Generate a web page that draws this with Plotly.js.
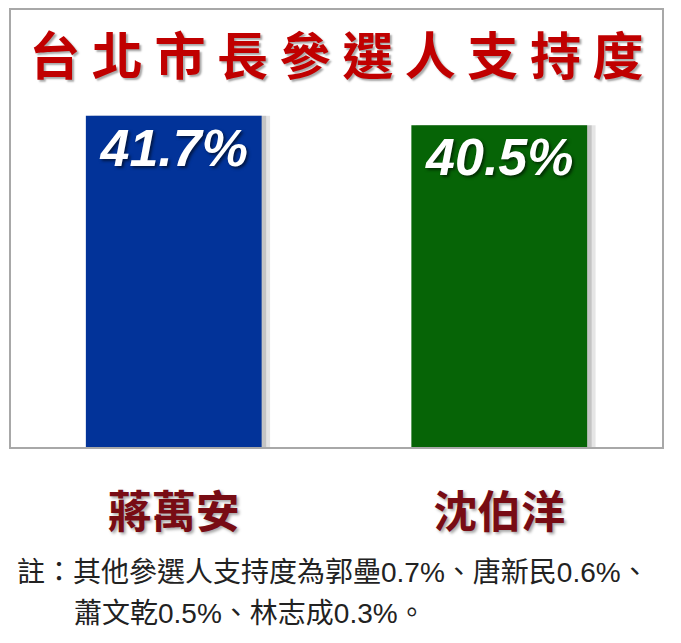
<!DOCTYPE html>
<html>
<head>
<meta charset="utf-8">
<script src="https://cdn.plot.ly/plotly-3.0.1.min.js"></script>
<style>
  html, body { margin: 0; padding: 0; background: #fff; }
  #chart { width: 681px; height: 643px; }
</style>
</head>
<body>
<div id="chart"></div>
<script>
// candidates and their support (%)
var candidates = ['蔣萬安', '沈伯洋'];
var support = [41.7, 40.5];
var barColors = ['#023399', '#066406'];

// other candidates, listed in the footnote
var otherNames = ['郭壘', '唐新民', '蕭文乾', '林志成'];
var otherSupport = [0.7, 0.6, 0.5, 0.3];

var titleText = '台北市長參選人支持度';

// footnote lines
var note1 = '註：其他參選人支持度為' + otherNames[0] + otherSupport[0].toFixed(1) + '%、' +
  otherNames[1] + otherSupport[1].toFixed(1) + '%、';
var note2 = otherNames[2] + otherSupport[2].toFixed(1) + '%、' +
  otherNames[3] + otherSupport[3].toFixed(1) + '%。';

// soft drop shadow to the right of the bars
function shadow(shift, alpha) {
  return {
    type: 'bar',
    x: candidates,
    y: support,
    width: 0.54,
    offset: -0.27 + shift,
    marker: { color: 'rgba(0,0,0,' + alpha + ')' },
    hoverinfo: 'skip',
    showlegend: false
  };
}

var bars = {
  type: 'bar',
  x: candidates,
  y: support,
  width: 0.54,
  offset: -0.27,
  marker: { color: barColors },
  texttemplate: '%{y:.1f}%',
  textposition: 'inside',
  insidetextanchor: 'end',
  textangle: 0,
  textfont: {
    family: '"Liberation Sans", Arial, sans-serif',
    size: 52,
    color: '#ffffff',
    weight: 'bold',
    style: 'italic',
    shadow: '2px 2px 3px rgba(0,0,0,0.55)'
  },
  showlegend: false
};

var data = [shadow(0.026, 0.10), shadow(0.014, 0.14), bars];

var layout = {
  width: 681,
  height: 643,
  margin: { l: 11, r: 19, t: 10, b: 196 },
  paper_bgcolor: '#ffffff',
  plot_bgcolor: '#ffffff',
  barmode: 'overlay',
  showlegend: false,
  title: {
    text: titleText.split('').join(' '),
    x: 0.494,
    xanchor: 'center',
    y: 0.911,
    yanchor: 'middle',
    font: {
      family: '"Noto Sans CJK TC", "Noto Sans CJK SC", sans-serif',
      size: 51,
      color: '#c00000',
      weight: 'bold',
      shadow: '2px 2px 2px rgba(0,0,0,0.35)'
    }
  },
  xaxis: {
    type: 'category',
    range: [-0.5, 1.5],
    showgrid: false,
    zeroline: false,
    showline: true,
    mirror: true,
    linecolor: '#a8a8a8',
    linewidth: 2,
    ticks: '',
    ticklabelstandoff: 26,
    tickfont: {
      family: '"Noto Sans CJK TC", "Noto Sans CJK SC", serif',
      size: 44,
      color: '#780c14',
      weight: 'bold',
      shadow: '2px 2px 3px rgba(0,0,0,0.35)'
    }
  },
  yaxis: {
    range: [0, 55],
    showgrid: false,
    zeroline: false,
    showline: true,
    mirror: true,
    linecolor: '#a8a8a8',
    linewidth: 2,
    ticks: '',
    showticklabels: false
  },
  annotations: [
    {
      text: note1,
      xref: 'paper', yref: 'paper',
      x: 0.006, y: -0.288,
      xanchor: 'left', yanchor: 'middle',
      showarrow: false,
      font: { family: '"Liberation Sans", "Noto Sans CJK TC", sans-serif', size: 28, color: '#222222' }
    },
    {
      text: note2,
      xref: 'paper', yref: 'paper',
      x: 0.094, y: -0.382,
      xanchor: 'left', yanchor: 'middle',
      showarrow: false,
      font: { family: '"Liberation Sans", "Noto Sans CJK TC", sans-serif', size: 28, color: '#222222' }
    }
  ]
};

Plotly.newPlot('chart', data, layout, { displayModeBar: false, staticPlot: true });
</script>
</body>
</html>
